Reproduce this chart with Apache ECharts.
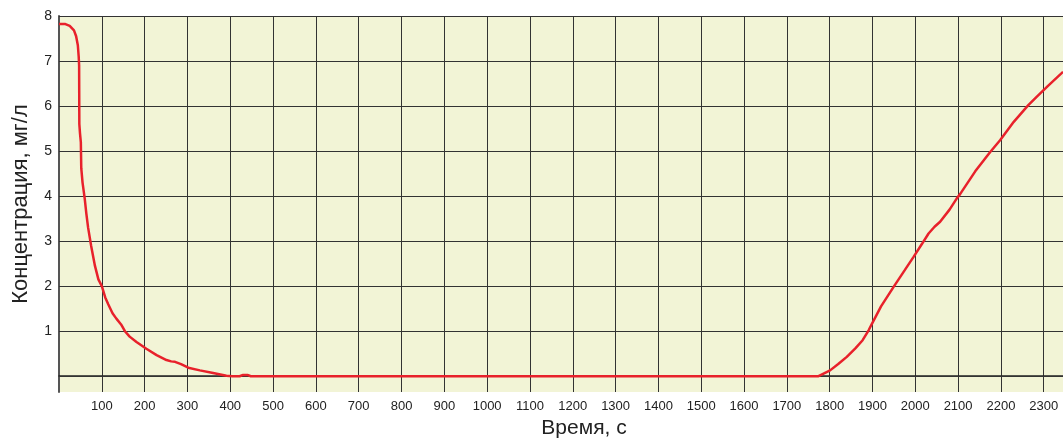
<!DOCTYPE html>
<html><head><meta charset="utf-8">
<script src="https://cdn.jsdelivr.net/npm/echarts@6/dist/echarts.min.js"></script>
<style>html,body{margin:0;padding:0;background:#fff}#c{width:1063px;height:438px}</style>
</head><body><div id="c"></div>
<script>
const timeValues = [0, 15, 25, 35, 40, 44, 46, 47, 47.5, 49, 51, 52, 55, 60, 64, 68, 75, 84, 92, 100, 108, 115, 125, 134, 145, 154, 165, 181, 204, 228, 251, 262, 271, 285, 302, 329, 360, 391, 405, 422, 430, 440, 448, 1000, 1774, 1801, 1820, 1840, 1860, 1877, 1891, 1899, 1920, 1949, 1975, 1996, 2015, 2031, 2045, 2058, 2080, 2097, 2105, 2140, 2175, 2198, 2230, 2264, 2284, 2310, 2345];
const concValues = [7.82, 7.82, 7.78, 7.68, 7.55, 7.35, 7.1, 6.9, 5.6, 5.4, 5.2, 4.62, 4.3, 3.95, 3.6, 3.3, 2.9, 2.45, 2.15, 2.0, 1.75, 1.6, 1.4, 1.28, 1.15, 1.0, 0.88, 0.76, 0.61, 0.47, 0.36, 0.33, 0.32, 0.27, 0.19, 0.13, 0.07, 0.01, 0, 0, 0.03, 0.03, 0, 0, 0, 0.13, 0.27, 0.43, 0.62, 0.8, 1.02, 1.17, 1.55, 1.98, 2.35, 2.65, 2.93, 3.17, 3.32, 3.43, 3.7, 3.95, 4.05, 4.55, 4.98, 5.24, 5.65, 6.02, 6.21, 6.45, 6.76];
const yTickValues = [0, 1, 2, 3, 4, 5, 6, 7, 8];
const yLabelValues = [1, 2, 3, 4, 5, 6, 7, 8];
const xAxisTitle = 'Время, с';
const yAxisTitle = 'Концентрация, мг/л';

const chart = echarts.init(document.getElementById('c'), null, {renderer: 'canvas'});
chart.setOption({
  animation: false,
  textStyle: {fontFamily: 'Liberation Sans, Arial, sans-serif'},
  grid: {left: 59, top: 16, right: 0, bottom: 46, show: true, backgroundColor: '#f2f4d6', borderWidth: 0,
    containLabel: false, outerBoundsMode: 'none'},
  xAxis: {
    type: 'value', min: 0, max: 2345, interval: 100,
    name: xAxisTitle, nameLocation: 'middle', nameGap: 26,
    nameTextStyle: {fontSize: 21, color: '#222', padding: [0, 0, 0, 46]},
    axisLine: {show: true, lineStyle: {color: '#222', width: 1.5}},
    axisTick: {show: false},
    axisLabel: {color: '#222', fontSize: 13, margin: 8, showMaxLabel: false,
      formatter: v => v === 0 ? '' : String(v)},
    splitLine: {show: true, lineStyle: {color: '#333', width: 1}}
  },
  yAxis: {
    type: 'value', min: -0.35, max: 8,
    name: yAxisTitle, nameLocation: 'middle', nameGap: 27,
    nameTextStyle: {fontSize: 22, color: '#222'},
    axisLine: {show: true, lineStyle: {color: '#555', width: 2}},
    axisTick: {show: false, customValues: yTickValues},
    axisLabel: {color: '#222', fontSize: 14, margin: 7, customValues: yLabelValues},
    splitLine: {show: false}
  },
  series: [{
    type: 'line',
    data: timeValues.map((t, i) => [t, concValues[i]]),
    showSymbol: false, smooth: false,
    lineStyle: {color: '#e8212b', width: 2.5},
    markLine: {
      silent: true, symbol: 'none', label: {show: false},
      lineStyle: {color: '#333', width: 1, type: 'solid'},
      data: yTickValues.map(v => ({yAxis: v}))
    },
    z: 5
  }]
});
</script></body></html>
